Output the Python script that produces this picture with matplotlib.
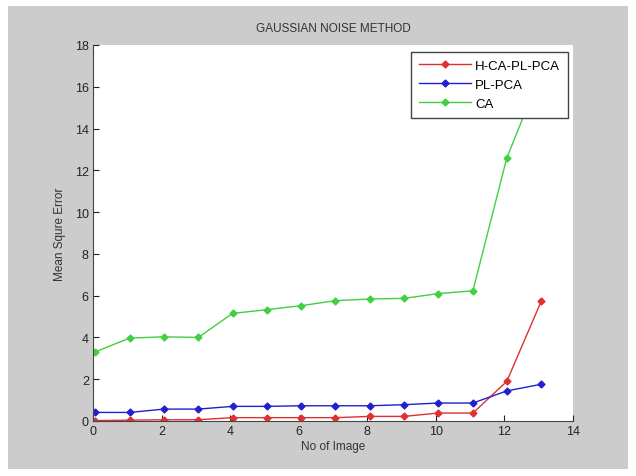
import numpy as np
import matplotlib.pyplot as plt
from matplotlib.patches import Rectangle

plt.rcParams['font.family'] = ['Liberation Sans', 'DejaVu Sans']

# image index positions (markers sit slightly right of integer ticks)
x_img = [0.05, 1.07, 2.07, 3.07, 4.07, 5.07, 6.07, 7.07, 8.07, 9.07, 10.07, 11.08, 12.07, 13.08]

mse_hca = [0.02, 0.04, 0.06, 0.06, 0.16, 0.16, 0.16, 0.16, 0.22, 0.22, 0.38, 0.38, 1.9, 5.76]
mse_plpca = [0.41, 0.41, 0.57, 0.57, 0.7, 0.7, 0.73, 0.73, 0.73, 0.78, 0.86, 0.86, 1.44, 1.76]
mse_ca = [3.3, 3.97, 4.03, 4.0, 5.15, 5.33, 5.52, 5.76, 5.84, 5.87, 6.1, 6.23, 12.6, 16.7]

labels = ['H-CA-PL-PCA', 'PL-PCA', 'CA']
colors = ['#e03030', '#2020d0', '#40d040']

fig = plt.figure(figsize=(6.36, 4.77), dpi=100, facecolor='white')
# grey figure panel like the MATLAB window
panel = Rectangle((8 / 636, 1 - 470 / 477), 620 / 636, 463 / 477,
                  transform=fig.transFigure, facecolor='#cccccc',
                  edgecolor='none', zorder=-10)
fig.add_artist(panel)

ax = fig.add_axes([93 / 636, 1 - 422 / 477, 480 / 636, 376 / 477])
ax.set_facecolor('white')

for ys, lab, c in zip([mse_hca, mse_plpca, mse_ca], labels, colors):
    ax.plot(x_img, ys, color=c, marker='D', markersize=3.5, linewidth=1.0, label=lab)

ax.set_xlim(0, 14)
ax.set_ylim(0, 18)
ax.set_xticks(range(0, 15, 2))
ax.set_yticks(range(0, 19, 2))
ax.tick_params(direction='in', length=4, labelsize=9, colors='#222222', pad=3)
for s in ['top', 'right']:
    ax.spines[s].set_visible(False)
for s in ['left', 'bottom']:
    ax.spines[s].set_color('#444444')

ax.set_title('GAUSSIAN NOISE METHOD', fontsize=8.5, color='#333333', pad=10)
ax.set_xlabel('No of Image', fontsize=8.5, color='#333333', labelpad=2)
ax.set_ylabel('Mean Squre Error', fontsize=8.5, color='#333333', labelpad=6)

leg = ax.legend(loc='upper right', fontsize=9.5, frameon=True, fancybox=False,
                borderpad=0.6, labelspacing=0.5, handlelength=4.0, handletextpad=0.3,
                borderaxespad=0, bbox_to_anchor=(0.99, 0.982), framealpha=1)
leg.get_frame().set_edgecolor('#444444')
leg.get_frame().set_linewidth(1.0)

fig.savefig('out.png', dpi=100, facecolor=fig.get_facecolor())
